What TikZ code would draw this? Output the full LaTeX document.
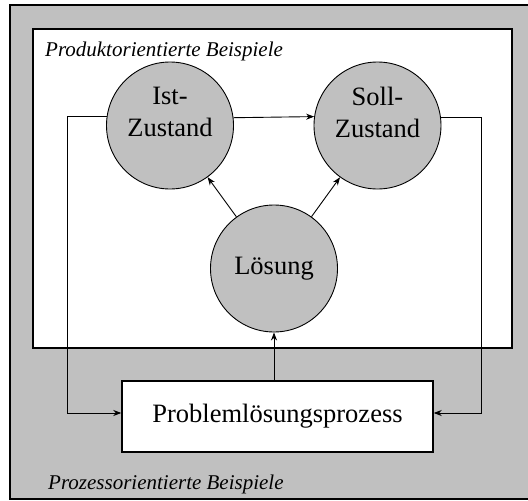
\documentclass[tikz,border=0pt]{standalone}
\usepackage{fontspec}
\setmainfont{Liberation Serif}
\usetikzlibrary{arrows.meta}
\definecolor{panelgray}{HTML}{C0C0C0}
\tikzset{
  frame/.style={draw=black, line width=1.4pt},
  state/.style={circle, draw=black, line width=0.9pt, fill=panelgray,
    minimum size=127pt, inner sep=0pt},
  procbox/.style={rectangle, draw=black, line width=1.4pt, fill=white,
    minimum width=311pt, minimum height=71pt, inner sep=0pt},
  bigtext/.style={font=\fontsize{26.5}{32}\selectfont, align=center, inner sep=0pt},
  areatext/.style={font=\fontsize{21}{25}\selectfont\itshape, anchor=base west, inner sep=0pt},
  flow/.style={draw=black, line width=0.9pt,
    -{Stealth[length=8pt, width=6pt, inset=2.5pt]}},
}
\begin{document}
\begin{tikzpicture}[x=1pt, y=-1pt]
  \clip (0,0) rectangle (528,501);

  % process area (outer) and product area (inner)
  \draw[frame, fill=panelgray] (10,5) rectangle (545,499);
  \draw[frame, fill=white] (33,29) rectangle (512,348);

  \node[areatext] (prodlabel) at (45,56) {Produktorientierte Beispiele};
  \node[areatext] (proclabel) at (48,489) {Prozessorientierte Beispiele};

  % states
  \node[state] (ist) at (170,125.5) {};
  \node[state] (soll) at (377.5,125.5) {};
  \node[state] (loesung) at (274,268.5) {};
  \node[bigtext] (isttext) at (170,112) {Ist-\\Zustand};
  \node[bigtext] (solltext) at (377.5,112) {Soll-\\Zustand};
  \node[bigtext] (loesungtext) at (274,268.5) {Lösung};

  % process box
  \node[procbox] (prozess) at (277.5,416.5) {};
  \node[bigtext] (prozesstext) at (277.5,416.5) {Problemlösungsprozess};

  % turning points of the feedback lines
  \coordinate (lturn) at (67,413);
  \coordinate (rturn) at (481,413);

  % connectors
  \draw[flow] (ist.7.2) -- (soll.172.8);
  \draw[flow] (loesung) -- (ist);
  \draw[flow] (loesung) -- (soll);
  \draw[flow] (loesung |- prozess.north) -- (loesung.south);
  \draw[flow] (ist.172.8) -| (lturn) -- (lturn -| prozess.west);
  \draw[flow] (soll.7.2) -| (rturn) -- (rturn -| prozess.east);
\end{tikzpicture}
\end{document}
